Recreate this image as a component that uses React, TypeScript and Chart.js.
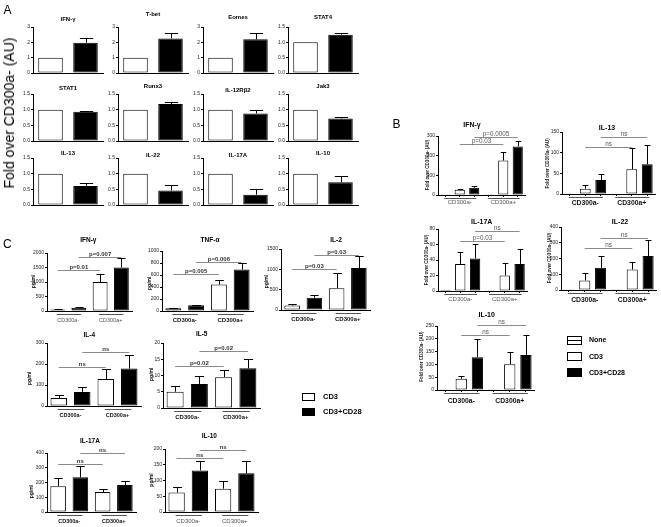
import React, { useEffect, useRef } from 'react';
import { Chart, registerables } from 'chart.js';

Chart.register(...registerables);

const FONT = '"Liberation Sans", Arial, Helvetica, sans-serif';

// ---------------- Panel A : fold over CD300a- ----------------
const aTitles = ['IFN-γ', 'T-bet', 'Eomes', 'STAT4', 'STAT1', 'Runx3', 'IL-12Rβ2', 'Jak3', 'IL-13', 'IL-22', 'IL-17A', 'IL-10'];
const aCategories = ['CD300a-', 'CD300a+'];
const aNegValues = [1, 1, 1, 1, 1, 1, 1, 1, 1, 1, 1, 1];
const aPosValues = [1.97, 2.25, 2.2, 1.25, 0.93, 1.18, 0.88, 0.72, 0.61, 0.46, 0.33, 0.73];
const aPosErrors = [0.3, 0.33, 0.42, 0.06, 0.04, 0.08, 0.1, 0.06, 0.1, 0.19, 0.17, 0.2];
const aAxisMax = [3, 3, 3, 1.5, 1.5, 1.5, 1.5, 1.5, 1.5, 1.5, 1.5, 1.5];
const aAxisStep = [1, 1, 1, 0.5, 0.5, 0.5, 0.5, 0.5, 0.5, 0.5, 0.5, 0.5];

// ---------------- Panel B : fold over CD300a- (AU) ----------------
const bCategories = ['None', 'CD3', 'CD3+CD28', 'None', 'CD3', 'CD3+CD28'];
const bGroupLabels = ['CD300a-', 'CD300a+'];
const bIfngValues = [1, 27, 37, 1, 175, 247];
const bIfngErrors = [0, 5, 8, 0, 45, 30];
const bIfngSig = [[1, 4, 258, 'p=0.03'], [2, 5, 295, 'p=0.0005']];
const bIl13Values = [1, 13, 34, 1, 60, 72];
const bIl13Errors = [0, 8, 14, 0, 51, 47];
const bIl13Sig = [[1, 4, 114, 'ns'], [2, 5, 139, 'ns']];
const bIl17aValues = [1.5, 35, 42, 1, 20, 35];
const bIl17aErrors = [0, 15, 19, 0, 16, 19];
const bIl17aSig = [[1, 4, 64, 'p=0.03'], [2, 5, 77, 'ns']];
const bIl22Values = [1, 61, 141, 1, 130, 216];
const bIl22Errors = [0, 44, 75, 0, 48, 99];
const bIl22Sig = [[1, 4, 264, 'ns'], [2, 5, 331, 'ns']];
const bIl10Values = [1, 44, 128, 1, 101, 137];
const bIl10Errors = [0, 12, 70, 0, 49, 78];
const bIl10Sig = [[1, 4, 215, 'ns'], [2, 5, 254, 'ns']];

// ---------------- Panel C : pg/ml ----------------
const cCategories = ['CD3', 'CD3+CD28', 'CD3', 'CD3+CD28'];
const cGroupLabels = ['CD300a-', 'CD300a+'];
const cIfngValues = [50, 115, 1000, 1500];
const cIfngErrors = [20, 30, 270, 320];
const cIfngSig = [[0, 2, 1403, 'p=0.01'], [1, 3, 1862, 'p=0.007']];
const cTnfaValues = [45, 95, 440, 690];
const cTnfaErrors = [8, 8, 70, 117];
const cTnfaSig = [[0, 2, 623, 'p=0.005'], [1, 3, 817, 'p=0.006']];
const cIl2Values = [110, 300, 535, 1030];
const cIl2Errors = [30, 60, 380, 290];
const cIl2Sig = [[0, 2, 1007, 'p=0.03'], [1, 3, 1361, 'p=0.03']];
const cIl4Values = [38, 67, 128, 178];
const cIl4Errors = [13, 22, 48, 67];
const cIl4Sig = [[0, 2, 186, 'ns'], [1, 3, 257, 'ns']];
const cIl5Values = [5, 7.4, 9.5, 12.2];
const cIl5Errors = [1.7, 2.4, 2.1, 2.8];
const cIl5Sig = [[0, 2, 12.8, 'p=0.02'], [1, 3, 17.4, 'p=0.02']];
const cIl17aValues = [175, 235, 136, 183];
const cIl17aErrors = [58, 80, 22, 30];
const cIl17aSig = [[0, 2, 328, 'ns'], [1, 3, 403, 'ns']];
const cIl10Values = [62, 132, 74, 123];
const cIl10Errors = [18, 30, 26, 40];
const cIl10Sig = [[0, 2, 170, 'ns'], [1, 3, 197, 'ns']];

// ---------------- layout ----------------
const ML = 30, MR = 8, MT = 26, MB = 18;
const W_ = '#ffffff', K_ = '#000000';

interface Spec {
  key: string;
  area: number[];
  cats: string[];
  values: number[];
  errs: number[];
  fills: string[];
  yMax: number;
  yStep: number;
  title: string;
  titlePos: number[];
  titleSize: number;
  yLabel?: string;
  yLabelPos?: number[];
  yLabelSize?: number;
  sig: any[];
  sigSize: number;
  sigBold: boolean;
  sigColor: string;
  groups?: { a: number; b: number; t: string }[];
  groupBold?: boolean;
  groupSize?: number;
  groupColor?: string;
  gLineDy?: number;
  gTextDy?: number;
  xTicks: boolean;
}

const A_COLS = [33, 118, 203, 288];
const A_ROWS = [[27, 73], [94, 141], [158, 205]];
const aTitleY = [19, 14, 17, 17, 88, 86, 90, 86, 153, 155, 155, 153];

const aSpecs: Spec[] = aTitles.map((t, i) => {
  const c = A_COLS[i % 4];
  const r = A_ROWS[Math.floor(i / 4)];
  return {
    key: 'A' + i,
    area: [c, r[0], c + 70, r[1]],
    cats: aCategories,
    values: [aNegValues[i], aPosValues[i]],
    errs: [0, aPosErrors[i]],
    fills: [W_, K_],
    yMax: aAxisMax[i],
    yStep: aAxisStep[i],
    title: t,
    titlePos: [c + 35, aTitleY[i]],
    titleSize: 6,
    sig: [],
    sigSize: 6,
    sigBold: false,
    sigColor: '#444',
    xTicks: false,
  };
});

const bGroups = [{ a: 0, b: 2, t: bGroupLabels[0] }, { a: 3, b: 5, t: bGroupLabels[1] }];
const bFills = [W_, W_, K_, W_, W_, K_];
const bYL = 'Fold over CD300a- (AU)';

function bSpec(key: string, area: number[], values: number[], errs: number[], yMax: number, yStep: number, title: string, titlePos: number[], yLabelPos: number[], sig: any[], bold: boolean, gTextDy: number): Spec {
  return {
    key, area, cats: bCategories, values, errs, fills: bFills, yMax, yStep, title, titlePos, titleSize: 7,
    yLabel: bYL, yLabelPos, yLabelSize: 4.5, sig, sigSize: 6.3, sigBold: false, sigColor: '#555',
    groups: bGroups, groupBold: bold, groupSize: bold ? 6.8 : 6, groupColor: bold ? '#111' : '#555',
    gLineDy: 3, gTextDy, xTicks: true,
  };
}

const bSpecs: Spec[] = [
  bSpec('B0', [438, 135.7, 525, 194.7], bIfngValues, bIfngErrors, 300, 100, 'IFN-γ', [472, 125], [428, 165], bIfngSig, false, 7.5),
  bSpec('B1', [562, 132.3, 655, 194.3], bIl13Values, bIl13Errors, 150, 50, 'IL-13', [607, 128], [547.5, 163.3], bIl13Sig, true, 9.5),
  bSpec('B2', [438, 229.3, 527, 290.7], bIl17aValues, bIl17aErrors, 80, 20, 'IL-17A', [481.7, 222.3], [426.7, 260], bIl17aSig, false, 8.6),
  bSpec('B3', [561, 226.7, 656, 290], bIl22Values, bIl22Errors, 400, 100, 'IL-22', [620, 222.3], [550, 258], bIl22Sig, true, 10),
  bSpec('B4', [437, 326, 534, 390.3], bIl10Values, bIl10Errors, 250, 50, 'IL-10', [486.7, 314.7], [421.7, 356.7], bIl10Sig, true, 11),
];

const cGroups = [{ a: 0, b: 1, t: cGroupLabels[0] }, { a: 2, b: 3, t: cGroupLabels[1] }];
const cFills = [W_, K_, W_, K_];

function cSpec(key: string, area: number[], values: number[], errs: number[], yMax: number, yStep: number, title: string, titlePos: number[], yLabelPos: number[], sig: any[], bold: boolean, gSize: number): Spec {
  return {
    key, area, cats: cCategories, values, errs, fills: cFills, yMax, yStep, title, titlePos, titleSize: 6.5,
    yLabel: 'pg/ml', yLabelPos, yLabelSize: 5, sig, sigSize: 6, sigBold: true, sigColor: '#333',
    groups: cGroups, groupBold: bold, groupSize: gSize, groupColor: bold ? '#111' : '#555',
    gLineDy: 3, gTextDy: 9.5, xTicks: false,
  };
}

const cSpecs: Spec[] = [
  cSpec('C0', [46.7, 252.7, 131.7, 310.7], cIfngValues, cIfngErrors, 2000, 500, 'IFN-γ', [88.3, 240], [33.3, 281.7], cIfngSig, false, 5.5),
  cSpec('C1', [162.3, 250.7, 253.3, 310.7], cTnfaValues, cTnfaErrors, 1000, 200, 'TNF-α', [210, 240], [149.3, 283.3], cTnfaSig, true, 6),
  cSpec('C2', [281, 249.3, 370, 310], cIl2Values, cIl2Errors, 1500, 500, 'IL-2', [336, 240], [266.7, 281.7], cIl2Sig, true, 6),
  cSpec('C3', [46.7, 342.7, 141, 406], cIl4Values, cIl4Errors, 300, 100, 'IL-4', [89.3, 335], [29.3, 378.3], cIl4Sig, true, 5.5),
  cSpec('C4', [163.3, 343.3, 260, 408.3], cIl5Values, cIl5Errors, 20, 5, 'IL-5', [201.7, 334.3], [151.7, 374.3], cIl5Sig, true, 6),
  cSpec('C5', [47, 452.7, 136, 511.7], cIl17aValues, cIl17aErrors, 400, 100, 'IL-17A', [90, 441.7], [31.7, 491.7], cIl17aSig, true, 5.5),
  cSpec('C6', [165, 449.3, 258, 511.7], cIl10Values, cIl10Errors, 200, 50, 'IL-10', [209.3, 436], [151.7, 480], cIl10Sig, false, 6),
];

function fontStr(size: number, bold: boolean) {
  return `${bold ? 'bold ' : ''}${size}px ${FONT}`;
}

function makeAnnot(s: Spec, ox: number, oy: number) {
  return {
    id: 'annot' + s.key,
    afterDatasetsDraw(chart: any) {
      const ctx = chart.ctx as CanvasRenderingContext2D;
      const ys = chart.scales.y;
      const bars = chart.getDatasetMeta(0).data;
      const area = chart.chartArea;
      ctx.save();
      ctx.lineWidth = 1;
      // error bars
      ctx.strokeStyle = '#000';
      bars.forEach((el: any, i: number) => {
        const e = s.errs[i];
        if (!e) return;
        const x = Math.round(el.x) + 0.5;
        const yTop = ys.getPixelForValue(s.values[i]);
        const yEnd = Math.round(ys.getPixelForValue(s.values[i] + e)) + 0.5;
        const hw = Math.max(2, el.width * 0.27);
        ctx.beginPath();
        ctx.moveTo(x, yTop);
        ctx.lineTo(x, yEnd);
        ctx.moveTo(x - hw, yEnd);
        ctx.lineTo(x + hw, yEnd);
        ctx.stroke();
      });
      // significance brackets
      ctx.textAlign = 'center';
      s.sig.forEach((bk: any[]) => {
        const xa = bars[bk[0]].x, xb = bars[bk[1]].x;
        const y = Math.round(ys.getPixelForValue(bk[2])) + 0.5;
        ctx.strokeStyle = '#8c8c8c';
        ctx.beginPath();
        ctx.moveTo(xa, y);
        ctx.lineTo(xb, y);
        ctx.stroke();
        ctx.fillStyle = s.sigColor;
        ctx.font = fontStr(s.sigSize, s.sigBold);
        ctx.textBaseline = 'alphabetic';
        ctx.fillText(String(bk[3]), (xa + xb) / 2, y - 1.5);
      });
      // group underlines + labels
      if (s.groups) {
        s.groups.forEach((g) => {
          const xa = bars[g.a].x - 1, xb = bars[g.b].x + 2;
          const y = Math.round(area.bottom + (s.gLineDy || 3)) + 0.5;
          ctx.strokeStyle = '#555';
          ctx.beginPath();
          ctx.moveTo(xa, y);
          ctx.lineTo(xb, y);
          ctx.stroke();
          ctx.fillStyle = s.groupColor || '#000';
          ctx.font = fontStr(s.groupSize || 6, !!s.groupBold);
          ctx.textBaseline = 'middle';
          ctx.fillText(g.t, (bars[g.a].x + bars[g.b].x) / 2, area.bottom + (s.gTextDy || 9));
        });
      }
      // title
      ctx.fillStyle = '#000';
      ctx.font = fontStr(s.titleSize, true);
      ctx.textBaseline = 'middle';
      ctx.fillText(s.title, s.titlePos[0] - ox, s.titlePos[1] - oy);
      // y label
      if (s.yLabel && s.yLabelPos) {
        ctx.save();
        ctx.translate(s.yLabelPos[0] - ox, s.yLabelPos[1] - oy);
        ctx.rotate(-Math.PI / 2);
        ctx.font = fontStr(s.yLabelSize || 5, true);
        ctx.fillStyle = '#111';
        ctx.fillText(s.yLabel, 0, 0);
        ctx.restore();
      }
      ctx.restore();
    },
  };
}

function BarPanel({ s }: { s: Spec }) {
  const ref = useRef<HTMLCanvasElement>(null);
  const l = Math.round(s.area[0]);
  const t = Math.round(s.area[1]);
  const r = Math.round(s.area[2]);
  const b = Math.round(s.area[3]);
  const left = l - ML;
  const top = t - MT;
  const W = r - l + ML + MR;
  const H = b - t + MT + MB;
  useEffect(() => {
    if (!ref.current) return;
    const dec = s.yStep < 1;
    const chart = new Chart(ref.current, {
      type: 'bar',
      data: {
        labels: s.cats,
        datasets: [
          {
            data: s.values,
            backgroundColor: s.fills,
            borderColor: '#000',
            borderWidth: 1,
            borderSkipped: false,
            barPercentage: 0.7,
            categoryPercentage: 1,
          },
        ],
      },
      options: {
        animation: false,
        responsive: false,
        maintainAspectRatio: false,
        devicePixelRatio: 1,
        events: [],
        layout: { padding: { left: 0, top: MT, right: MR, bottom: 0 } },
        plugins: { legend: { display: false }, tooltip: { enabled: false }, title: { display: false } },
        scales: {
          x: {
            type: 'category',
            offset: true,
            ticks: { display: false },
            grid: { display: s.xTicks, drawOnChartArea: false, drawTicks: true, tickLength: 2, offset: false, color: '#000' },
            border: { display: true, color: '#000', width: 1 },
            afterFit: (sc: any) => { sc.height = MB; },
          },
          y: {
            min: 0,
            max: s.yMax,
            ticks: {
              stepSize: s.yStep,
              padding: 1,
              color: '#222',
              font: { family: FONT, size: 5 },
              callback: (v: any) => (dec ? Number(v).toFixed(1) : String(v)),
            },
            grid: { display: true, drawOnChartArea: false, drawTicks: true, tickLength: 2, color: '#000' },
            border: { display: true, color: '#000', width: 1 },
            afterFit: (sc: any) => { sc.width = ML; },
          },
        },
      },
      plugins: [makeAnnot(s, left, top)],
    } as any);
    return () => chart.destroy();
  }, []);
  return (
    <canvas
      ref={ref}
      width={W}
      height={H}
      style={{ position: 'absolute', left, top, width: W, height: H }}
    />
  );
}

const txt = (extra: React.CSSProperties): React.CSSProperties => ({
  position: 'absolute',
  fontFamily: FONT,
  lineHeight: 1,
  whiteSpace: 'nowrap',
  color: '#000',
  ...extra,
});

function LegendItem({ x, y, w, h, fill, mid, label, size, tx }: any) {
  return (
    <>
      <div
        style={{
          position: 'absolute',
          left: x,
          top: y,
          width: w,
          height: h,
          boxSizing: 'border-box',
          border: '1.3px solid #000',
          background: fill,
        }}
      >
        {mid ? <div style={{ position: 'absolute', left: 0, right: 0, top: h / 2 - 1.6, height: 1, background: '#000' }} /> : null}
      </div>
      <div style={txt({ left: tx, top: y + h / 2 - size * 0.55, fontSize: size, fontWeight: 'bold' })}>{label}</div>
    </>
  );
}

export default function App() {
  const all = [...aSpecs, ...bSpecs, ...cSpecs];
  return (
    <div style={{ position: 'fixed', left: 0, top: 0, width: 661, height: 527, background: '#fff', overflow: 'hidden' }}>
      {all.map((s) => (
        <BarPanel key={s.key} s={s} />
      ))}
      <div style={txt({ left: 3.5, top: 3.8, fontSize: 12 })}>A</div>
      <div style={txt({ left: 392.5, top: 118, fontSize: 12 })}>B</div>
      <div style={txt({ left: 3, top: 238, fontSize: 12 })}>C</div>
      <div
        style={txt({
          left: 8.5,
          top: 113,
          fontSize: 14,
          transform: 'translate(-50%, -50%) rotate(-90deg)',
        })}
      >
        Fold over CD300a- (AU)
      </div>
      <LegendItem x={566.5} y={336} w={15} h={8.5} fill="#fff" mid label="None" size={7} tx={589} />
      <LegendItem x={566.5} y={352} w={15} h={9} fill="#fff" label="CD3" size={7} tx={589} />
      <LegendItem x={566.5} y={368} w={15} h={9} fill="#000" label="CD3+CD28" size={7} tx={589} />
      <LegendItem x={301.5} y={393} w={13.5} h={8} fill="#fff" label="CD3" size={7.5} tx={323} />
      <LegendItem x={301.5} y={407.5} w={13.5} h={8.5} fill="#000" label="CD3+CD28" size={7.5} tx={323} />
    </div>
  );
}
